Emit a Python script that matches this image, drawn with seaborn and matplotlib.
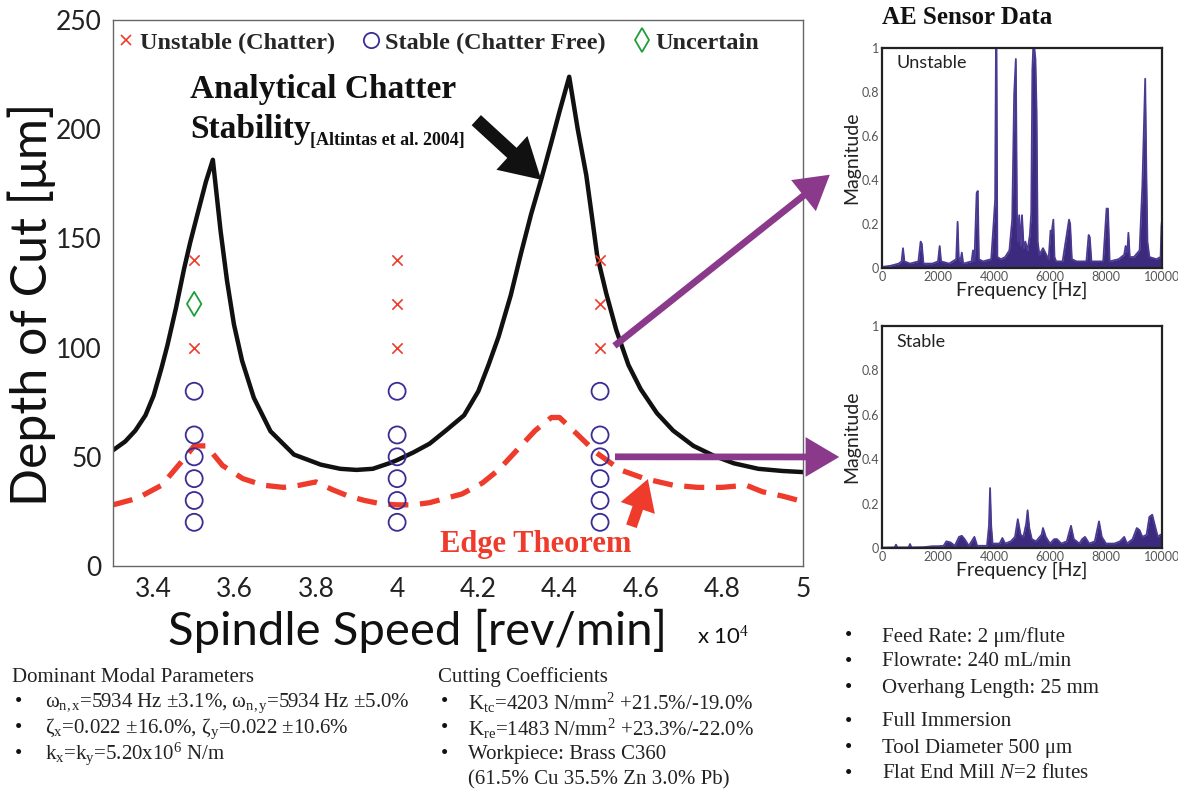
import numpy as np
import pandas as pd
import matplotlib
matplotlib.use("Agg")
import matplotlib.pyplot as plt
import seaborn as sns
from matplotlib.lines import Line2D
from matplotlib.font_manager import FontProperties

sns.set_theme(style="white")
plt.rcParams['font.family'] = ['Liberation Serif', 'DejaVu Serif']
plt.rcParams['mathtext.fontset'] = 'custom'
plt.rcParams['mathtext.rm'] = 'Liberation Serif'
plt.rcParams['mathtext.it'] = 'Liberation Serif:italic'
plt.rcParams['mathtext.bf'] = 'Liberation Serif:bold'

# ---------------- data ----------------
# analytical stability lobe (spindle speed in 1e4 rev/min, depth in um)
stab_x = [3.30, 3.33, 3.355, 3.38, 3.40, 3.42, 3.434, 3.455, 3.475, 3.49,
          3.508, 3.529, 3.546, 3.565, 3.581, 3.598, 3.618, 3.647, 3.688, 3.746,
          3.812, 3.86, 3.90, 3.94, 3.98, 4.00, 4.04, 4.08, 4.12, 4.165,
          4.20, 4.225, 4.25, 4.28, 4.305, 4.33, 4.355, 4.38, 4.40, 4.424,
          4.445, 4.466, 4.48, 4.493, 4.515, 4.54, 4.57, 4.60, 4.64, 4.68,
          4.73, 4.78, 4.83, 4.89, 4.95, 5.00]
stab_y = [53, 57, 62, 69, 78, 91, 101, 118, 136, 148,
          161, 176, 186, 153.5, 130.5, 110.6, 94, 77, 61.7, 51,
          46.4, 44.5, 44, 44.5, 47, 48.5, 52, 56, 62, 69,
          80, 92, 105, 124, 143, 161, 177, 194, 208, 224,
          200, 179, 160, 142, 125, 108, 92, 81, 70, 62,
          55, 50.5, 47, 44.5, 43.5, 43]

# edge theorem bound
edge_x = [3.30, 3.36, 3.42, 3.47, 3.50, 3.53, 3.57, 3.62, 3.67, 3.72,
          3.76, 3.80, 3.84, 3.88, 3.92, 3.96, 4.00, 4.04, 4.08, 4.12,
          4.16, 4.21, 4.25, 4.30, 4.34, 4.38, 4.40, 4.44, 4.49, 4.55,
          4.61, 4.68, 4.74, 4.80, 4.86, 4.90, 4.95, 5.00]
edge_y = [28, 31, 37, 48, 55, 55, 46, 40, 37, 36,
          37, 38.5, 35, 32, 30, 28.5, 28, 28, 29, 31,
          33, 38, 44, 54, 62, 68, 68, 61, 52, 44,
          40, 37, 36, 36, 37, 34, 32, 29.5]

# cutting tests
unstable_speed = [3.5, 3.5, 4.0, 4.0, 4.0, 4.5, 4.5, 4.5]
unstable_depth = [140, 100, 140, 120, 100, 140, 120, 100]
stable_speed = [3.5] * 6 + [4.0] * 6 + [4.5] * 6
stable_depth = [80, 60, 50, 40, 30, 20] * 3
uncertain_speed = [3.5]
uncertain_depth = [120]

xtick_vals = [3.4, 3.6, 3.8, 4.0, 4.2, 4.4, 4.6, 4.8, 5.0]
xtick_labels = ["3.4", "3.6", "3.8", "4", "4.2", "4.4", "4.6", "4.8", "5"]
ytick_vals = [0, 50, 100, 150, 200, 250]

# AE spectra (frequency Hz, normalized magnitude)
unstable_freq = [0, 300, 600, 700, 750, 800, 1000, 1300, 1380, 1420,
                 1480, 1800, 2000, 2060, 2110, 2400, 2650, 2700, 2740, 2800,
                 2850, 2900, 3200, 3250, 3300, 3380, 3420, 3460, 3600, 3900,
                 3980, 4040, 4070, 4090, 4120, 4250, 4400, 4550, 4650, 4720,
                 4780, 4820, 4860, 4900, 4950, 5000, 5060, 5120, 5200, 5280,
                 5330, 5370, 5400, 5440, 5480, 5520, 5560, 5620, 5750, 5950,
                 6020, 6060, 6120, 6160, 6220, 6450, 6680, 6720, 6780, 6950,
                 7300, 7380, 7420, 7480, 7900, 8020, 8070, 8130, 8450, 8650,
                 8700, 8760, 8800, 8850, 9000, 9200, 9300, 9350, 9400, 9440,
                 9480, 9550, 9800, 9950, 9980, 10000]
unstable_mag = [0.005, 0.01, 0.02, 0.03, 0.09, 0.03, 0.02, 0.03, 0.12, 0.11,
                0.02, 0.02, 0.03, 0.10, 0.03, 0.02, 0.04, 0.21, 0.05, 0.03,
                0.07, 0.02, 0.03, 0.08, 0.03, 0.34, 0.35, 0.04, 0.03, 0.04,
                0.19, 0.31, 1.0, 1.0, 0.05, 0.04, 0.05, 0.08, 0.22, 0.79,
                0.95, 0.25, 0.12, 0.24, 0.10, 0.24, 0.09, 0.12, 0.08, 0.15,
                0.25, 0.9, 1.0, 1.0, 0.95, 0.72, 0.12, 0.06, 0.09, 0.04,
                0.17, 0.16, 0.22, 0.05, 0.03, 0.03, 0.22, 0.20, 0.04, 0.03,
                0.03, 0.15, 0.14, 0.03, 0.03, 0.27, 0.27, 0.03, 0.04, 0.06,
                0.10, 0.07, 0.16, 0.05, 0.05, 0.08, 0.38, 0.62, 0.86, 0.45,
                0.12, 0.05, 0.04, 0.05, 0.19, 0.22]

stable_freq = [0, 450, 500, 550, 950, 1000, 1050, 1500, 1800, 2000,
               2200, 2300, 2450, 2600, 2750, 2850, 2950, 3100, 3250, 3300,
               3400, 3750, 3820, 3860, 3900, 3950, 4200, 4300, 4400, 4600,
               4750, 4850, 4950, 5050, 5150, 5200, 5260, 5350, 5500, 5700,
               5750, 5850, 6000, 6150, 6250, 6400, 6600, 6750, 6850, 7050,
               7150, 7250, 7400, 7600, 7750, 7850, 8000, 8300, 8500, 8650,
               8750, 8950, 9100, 9200, 9300, 9450, 9550, 9650, 9750, 9850,
               9950, 10000]
stable_mag = [0.002, 0.003, 0.015, 0.003, 0.003, 0.018, 0.003, 0.004, 0.008, 0.008,
              0.01, 0.03, 0.025, 0.01, 0.05, 0.055, 0.04, 0.01, 0.04, 0.05,
              0.01, 0.01, 0.10, 0.27, 0.10, 0.02, 0.02, 0.045, 0.02, 0.03,
              0.05, 0.13, 0.06, 0.05, 0.11, 0.17, 0.09, 0.04, 0.03, 0.06,
              0.09, 0.05, 0.02, 0.04, 0.04, 0.02, 0.03, 0.10, 0.04, 0.02,
              0.04, 0.05, 0.02, 0.03, 0.12, 0.05, 0.02, 0.02, 0.03, 0.05,
              0.02, 0.04, 0.09, 0.08, 0.05, 0.06, 0.14, 0.15, 0.10, 0.05,
              0.06, 0.06]

# ---------------- styling constants ----------------
RED = '#ee3b2b'
BLUE = '#3a2d94'
GREEN = '#1f9e3a'
PURPLE = '#8b3a8b'
SPEC = '#3b2a7e'
SANS = ['Lato', 'DejaVu Sans']
SERIF = ['Liberation Serif', 'DejaVu Serif']

W, H = 1178, 792
def fx(px):
    return px / W
def fy(py):
    return 1 - py / H

fig = plt.figure(figsize=(11.78, 7.92), dpi=100)

# ---------------- main axes ----------------
ax = fig.add_axes([fx(113), fy(566), (803 - 113) / W, (566 - 20) / H])

sns.lineplot(x=stab_x, y=stab_y, color='#111111', lw=3.2, ax=ax)
sns.lineplot(x=edge_x, y=edge_y, color=RED, lw=3.8, ax=ax,
             linestyle=(0, (3.8, 2.2)))

sns.scatterplot(x=unstable_speed, y=unstable_depth, marker='x', s=55,
                color=RED, linewidth=1.2, ax=ax, zorder=5)
sns.scatterplot(x=stable_speed, y=stable_depth, marker='o', s=150,
                facecolor='none', edgecolor=BLUE, linewidth=1.3, ax=ax, zorder=5)
sns.scatterplot(x=uncertain_speed, y=uncertain_depth, marker='d', s=150,
                facecolor='none', edgecolor=GREEN, linewidth=1.3, ax=ax, zorder=5)

ax.set_xlim(3.3, 5.0)
ax.set_ylim(0, 250)
ax.set_xticks(xtick_vals)
ax.set_xticklabels(xtick_labels)
ax.set_yticks(ytick_vals)
for sp in ax.spines.values():
    sp.set_color('#666666')
    sp.set_linewidth(1.0)
ax.tick_params(direction='in', length=6, width=1, color='#666666',
               labelsize=19, labelcolor='#222222', pad=8)
for lab in ax.get_xticklabels() + ax.get_yticklabels():
    lab.set_family(SANS)
ax.set_xlabel("Spindle Speed [rev/min]", family=SANS, fontsize=34,
              color='#111111')
ax.set_ylabel("Depth of Cut [μm]", family=SANS, fontsize=36,
              color='#111111')
ax.xaxis.set_label_coords(0.442, -0.078)
ax.yaxis.set_label_coords(-0.082, 0.48)
fig.text(fx(697), fy(636), r"x 10$^{4}$", family=SANS, fontsize=16,
         va='center', ha='left', color='#111111')

# legend
handles = [
    Line2D([], [], marker='x', ls='none', color=RED, markersize=7, mew=1.2),
    Line2D([], [], marker='o', ls='none', mfc='none', mec=BLUE, markersize=11, mew=1.3),
    Line2D([], [], marker='d', ls='none', mfc='none', mec=GREEN, markersize=12, mew=1.3),
]
ax.legend(handles, ["Unstable (Chatter)", "Stable (Chatter Free)", "Uncertain"],
          loc='upper left', bbox_to_anchor=(0.0, 0.99), ncol=3, frameon=False,
          prop=FontProperties(family='Liberation Serif', weight='bold', size=17.5),
          handletextpad=0.25, columnspacing=1.2, handlelength=0.6,
          borderaxespad=0.0, borderpad=0.25)

# annotations
ax.text(3.49, 218, "Analytical Chatter", family=SERIF, weight='bold',
        fontsize=24, va='center', ha='left', color='#111111')
ax.text(3.49, 200, "Stability", family=SERIF, weight='bold',
        fontsize=24, va='center', ha='left', color='#111111')
ax.text(3.786, 195, "[Altintas et al. 2004]", family=SERIF, weight='bold',
        fontsize=13, va='center', ha='left', color='#111111')
ax.annotate("", xy=(4.36, 176), xytext=(4.19, 205),
            arrowprops=dict(arrowstyle="simple,head_length=1.3,head_width=1.5,tail_width=0.45",
                            mutation_scale=22, color='#111111', lw=0))
ax.text(4.342, 10, "Edge Theorem", family=SERIF, weight='bold',
        fontsize=22, va='center', ha='center', color=RED)
ax.annotate("", xy=(4.62, 41), xytext=(4.575, 17),
            arrowprops=dict(arrowstyle="simple,head_length=1.1,head_width=1.3,tail_width=0.4",
                            mutation_scale=20, color=RED, lw=0))

# purple arrows to spectra
ax.annotate("", xy=(fx(832), fy(173)), xycoords='figure fraction',
            xytext=(4.53, 100), textcoords='data', annotation_clip=False,
            arrowprops=dict(arrowstyle="simple,head_length=1.1,head_width=1.3,tail_width=0.22",
                            mutation_scale=22, color=PURPLE, lw=0))
ax.annotate("", xy=(fx(842), fy(457)), xycoords='figure fraction',
            xytext=(4.53, 50), textcoords='data', annotation_clip=False,
            arrowprops=dict(arrowstyle="simple,head_length=1.1,head_width=1.3,tail_width=0.22",
                            mutation_scale=22, color=PURPLE, lw=0))

# ---------------- spectrum panels ----------------
def spectrum(axp, freq, mag, label):
    axp.fill_between(freq, 0, mag, color=SPEC, lw=0)
    sns.lineplot(x=freq, y=mag, color='#4a3a92', lw=1.3, ax=axp)
    axp.set_xlim(0, 10000)
    axp.set_ylim(0, 1)
    axp.set_xticks([0, 2000, 4000, 6000, 8000, 10000])
    axp.set_yticks([0, 0.2, 0.4, 0.6, 0.8, 1.0])
    axp.set_yticklabels(["0", "0.2", "0.4", "0.6", "0.8", "1"])
    axp.set_yticks([0.1, 0.3, 0.5, 0.7, 0.9], minor=True)
    axp.set_xticks([1000, 3000, 5000, 7000, 9000], minor=True)
    for sp in axp.spines.values():
        sp.set_color('#222222')
        sp.set_linewidth(1.6)
    axp.tick_params(which='both', direction='in', length=3, width=0.8,
                    color='#444444', labelsize=9, labelcolor='#555555', pad=2)
    for lab in axp.get_xticklabels() + axp.get_yticklabels():
        lab.set_family(SANS)
    axp.set_ylabel("Magnitude", family=SANS, fontsize=14, color='#222222', labelpad=1)
    axp.set_xlabel("Frequency [Hz]", family=SANS, fontsize=14, color='#222222', labelpad=-1)
    axp.text(0.05, 0.93, label, transform=axp.transAxes, family=SANS,
             fontsize=13, color='#222222', va='center', ha='left')

ax_u = fig.add_axes([fx(882), fy(268), (1162 - 882) / W, (268 - 48) / H])
spectrum(ax_u, unstable_freq, unstable_mag, "Unstable")
ax_s = fig.add_axes([fx(882), fy(548), (1162 - 882) / W, (548 - 326) / H])
spectrum(ax_s, stable_freq, stable_mag, "Stable")

fig.text(fx(882), fy(18), "AE Sensor Data", family=SERIF, weight='bold',
         fontsize=18, va='center', ha='left', color='#111111')

# ---------------- bottom text blocks ----------------
TXT = dict(family=SERIF, fontsize=15, va='center', ha='left', color='#222222')
BUL = dict(family=SERIF, fontsize=15, va='center', ha='left', color='#111111')

fig.text(fx(12), fy(677), "Dominant Modal Parameters", **TXT)
left_items = [
    r"$\mathrm{\omega_{n,x}}$=5934 Hz ±3.1%, $\mathrm{\omega_{n,y}}$=5934 Hz ±5.0%",
    r"$\mathrm{\zeta_{x}}$=0.022 ±16.0%, $\mathrm{\zeta_{y}}$=0.022 ±10.6%",
    r"$\mathrm{k_{x}}$=$\mathrm{k_{y}}$=5.20x10$^{6}$ N/m",
]
for i, t in enumerate(left_items):
    y = 703 + i * 25.5
    fig.text(fx(15), fy(y), "•", **BUL)
    fig.text(fx(45), fy(y), t, **TXT)

fig.text(fx(438), fy(677), "Cutting Coefficients", **TXT)
mid_items = [
    r"$\mathrm{K_{tc}}$=4203 N/mm$^{2}$ +21.5%/-19.0%",
    r"$\mathrm{K_{re}}$=1483 N/mm$^{2}$ +23.3%/-22.0%",
    "Workpiece: Brass C360",
]
for i, t in enumerate(mid_items):
    y = 703 + i * 25.5
    fig.text(fx(441), fy(y), "•", **BUL)
    fig.text(fx(468), fy(y), t, **TXT)
fig.text(fx(468), fy(780), "(61.5% Cu 35.5% Zn 3.0% Pb)", **TXT)

right_items = [
    (637, "Feed Rate: 2 μm/flute"),
    (662, "Flowrate: 240 mL/min"),
    (688, "Overhang Length: 25 mm"),
    (722, "Full Immersion"),
    (748, "Tool Diameter 500 μm"),
    (774, r"Flat End Mill $\mathit{N}$=2 flutes"),
]
for y, t in right_items:
    fig.text(fx(845), fy(y), "•", **BUL)
    fig.text(fx(882), fy(y), t, **TXT)

fig.savefig("out.png", dpi=100)
